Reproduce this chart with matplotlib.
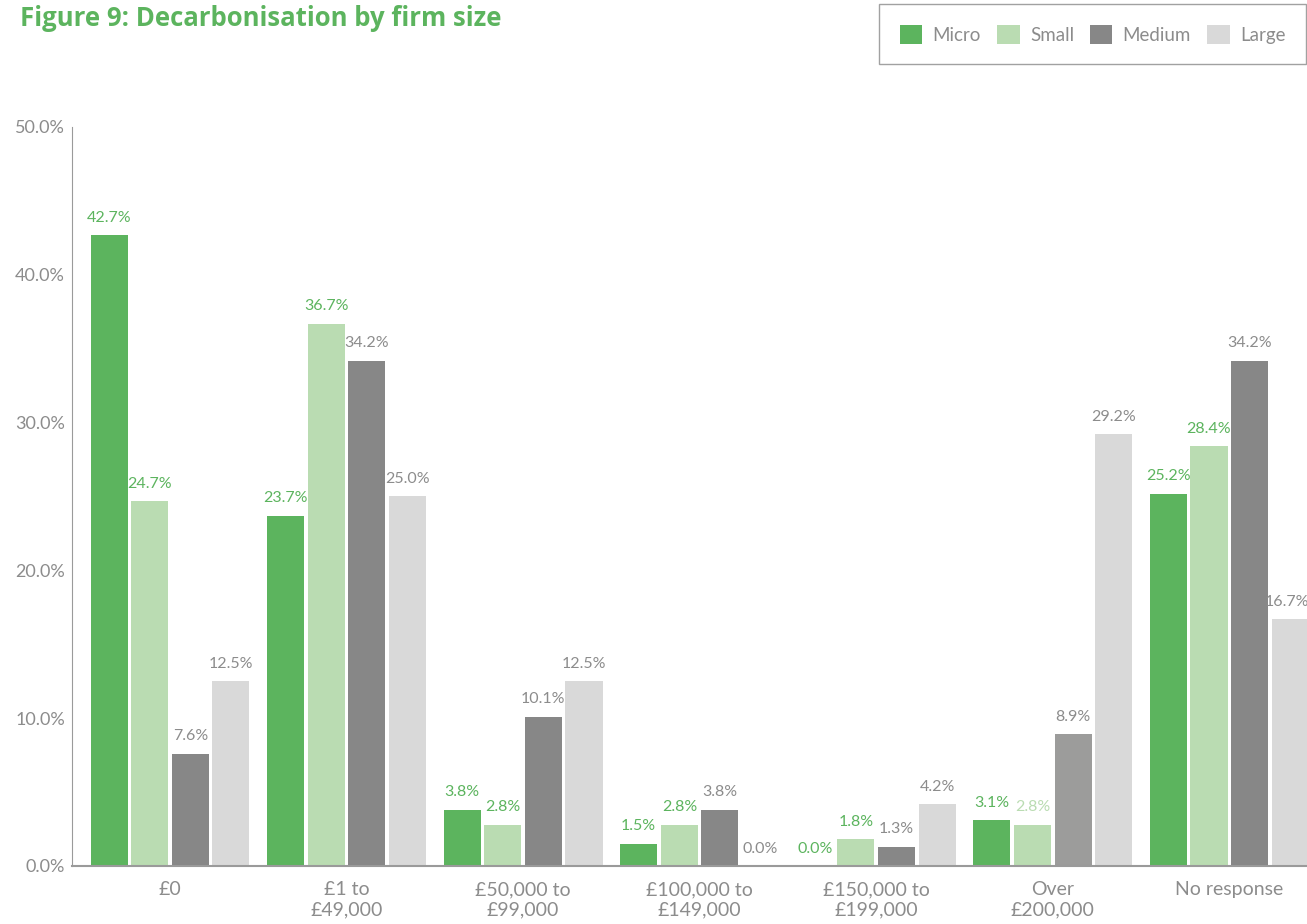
import numpy as np
import matplotlib.pyplot as plt
from matplotlib.patches import Patch

categories = ['£0', '£1 to\n£49,000', '£50,000 to\n£99,000', '£100,000 to\n£149,000',
              '£150,000 to\n£199,000', 'Over\n£200,000', 'No response']
series = ['Micro', 'Small', 'Medium', 'Large']
micro = [42.7, 23.7, 3.8, 1.5, 0.0, 3.1, 25.2]
small = [24.7, 36.7, 2.8, 2.8, 1.8, 2.8, 28.4]
medium = [7.6, 34.2, 10.1, 3.8, 1.3, 8.9, 34.2]
large = [12.5, 25.0, 12.5, 0.0, 4.2, 29.2, 16.7]
yticks = [0, 10, 20, 30, 40, 50]

green = '#5cb45e'
light_green = '#badcb2'
dark_grey = '#878787'
light_grey = '#d9d9d9'
text_grey = '#8c8c8c'

bar_colors = [green, light_green, dark_grey, light_grey]
label_colors = [green, green, text_grey, text_grey]

plt.rcParams['font.family'] = ['Lato', 'DejaVu Sans']

fig = plt.figure(figsize=(13.07, 9.24), dpi=100)
ax = fig.add_axes([72 / 1307, 58 / 924, 1235 / 1307, 739 / 924])

x = np.arange(len(categories))
step = 0.23
width = 0.21
for i, (name, vals) in enumerate(zip(series, [micro, small, medium, large])):
    cols = [bar_colors[i]] * len(vals)
    lcols = [label_colors[i]] * len(vals)
    if name == 'Medium':
        cols[5] = '#9c9c9b'
    if name == 'Small':
        lcols[5] = light_green
    pos = x + (i - 1.5) * step
    ax.bar(pos, vals, width=width, color=cols, zorder=2)
    for j, (p, v, c) in enumerate(zip(pos, vals, lcols)):
        # last label sits right at the figure edge, keep it inside
        if name == 'Large' and j == len(vals) - 1:
            ax.text(p + width / 2 + 0.005, v + 0.7, f'{v:.1f}%', ha='right',
                    va='bottom', fontsize=11.5, color=c)
        else:
            ax.text(p, v + 0.7, f'{v:.1f}%', ha='center', va='bottom',
                    fontsize=11.5, color=c)

ax.set_xlim(-0.555, 6.44)
ax.set_ylim(0, 50)
ax.set_yticks(yticks)
ax.set_yticklabels([f'{t:.1f}%' for t in yticks], fontsize=13, color=text_grey)
ax.set_xticks(x)
ax.set_xticklabels(categories, fontsize=14, color=text_grey, linespacing=1.25)
ax.tick_params(axis='both', length=0)
ax.tick_params(axis='y', pad=5)
ax.tick_params(axis='x', pad=11)

ax.spines['right'].set_visible(False)
ax.spines['top'].set_visible(False)
ax.spines['left'].set_color('#9a9a9a')
ax.spines['bottom'].set_color('#9a9a9a')
ax.spines['bottom'].set_linewidth(1.5)

fig.text(20 / 1307, 1 - 19 / 924, 'Figure 9: Decarbonisation by firm size',
         fontsize=18.5, fontweight='bold', color=green, va='center', ha='left',
         family=['Open Sans', 'DejaVu Sans'])

handles = [Patch(facecolor=c, edgecolor='none') for c in bar_colors]
leg = fig.legend(handles, series, loc='upper right', bbox_to_anchor=(1306 / 1307, 1 - 4 / 924),
                 ncol=4, fontsize=13.5, frameon=True, fancybox=False, handlelength=1.2,
                 handleheight=1.2, handletextpad=0.55, columnspacing=0.85,
                 borderpad=1.1, borderaxespad=0, labelcolor=text_grey)
leg.get_frame().set_edgecolor('#8a8a8a')
leg.get_frame().set_linewidth(1.0)

fig.savefig('out.png', dpi=100)
